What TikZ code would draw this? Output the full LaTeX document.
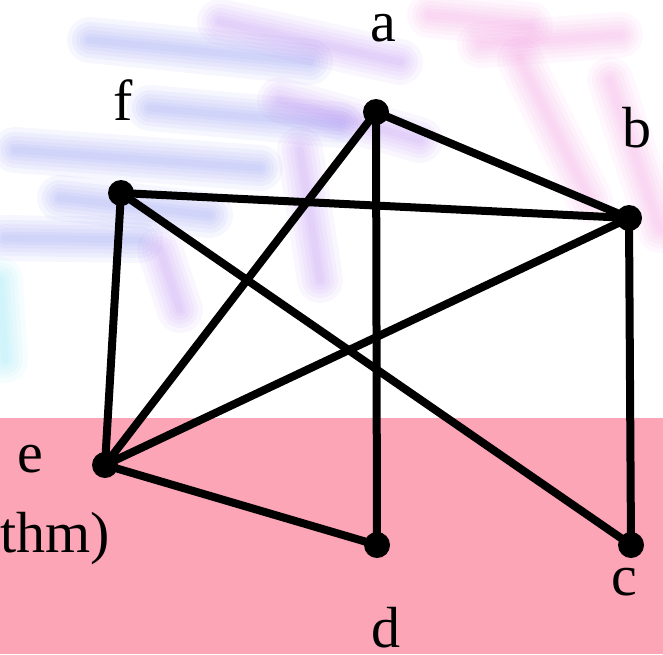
\documentclass[tikz,border=0pt]{standalone}
\usepackage{fontspec}
\setmainfont{Liberation Serif}
\usetikzlibrary{positioning}
\definecolor{figpink}{HTML}{FCA5B6}
\definecolor{figblue}{HTML}{7C84EE}
\definecolor{figviolet}{HTML}{B07CEE}
\definecolor{figrose}{HTML}{F090DC}
\definecolor{figcyan}{HTML}{7CE0F2}
\tikzset{
  vertex/.style={circle, fill=black, minimum size=26pt, inner sep=0pt},
  vlabel/.style={font=\fontsize{58}{60}\selectfont, inner sep=0pt},
  graphedge/.style={line width=8pt, black},
  streak/.style={line cap=round, line width=#1, opacity=0.07},
}
\newcommand{\blurstroke}[2]{\foreach \w in {46,36,28,20,13,7}{\draw[#1, streak=\w pt] #2;}}

\begin{document}
\begin{tikzpicture}[x=1pt, y=-1pt]
  \useasboundingbox (0,0) rectangle (663,654);
  % background
  \fill[figpink] (0,418) rectangle (663,654);
  \blurstroke{figblue}{(90,40) -- (310,62)}
  \blurstroke{figblue}{(150,108) -- (340,125)}
  \blurstroke{figblue}{(15,150) -- (260,168)}
  \blurstroke{figblue}{(60,198) -- (210,215)}
  \blurstroke{figblue}{(5,238) -- (140,240)}
  \blurstroke{figviolet}{(220,22) -- (400,62)}
  \blurstroke{figviolet}{(280,100) -- (420,140)}
  \blurstroke{figviolet}{(300,150) -- (320,280)}
  \blurstroke{figviolet}{(160,250) -- (180,310)}
  \blurstroke{figrose}{(430,15) -- (530,25)}
  \blurstroke{figrose}{(480,45) -- (620,35)}
  \blurstroke{figrose}{(520,60) -- (590,200)}
  \blurstroke{figrose}{(610,80) -- (660,230)}
  \blurstroke{figcyan}{(0,280) -- (5,360)}

  % vertices
  \node[vertex] (a) at (376,112) {};
  \node[vertex] (b) at (629,218) {};
  \node[vertex] (c) at (631,545) {};
  \node[vertex] (d) at (377,545) {};
  \node[vertex] (e) at (105,465) {};
  \node[vertex] (f) at (121,193) {};

  % labels
  \node[vlabel] (la) at (383,28) {a};
  \node[vlabel] (lb) at (637,128) {b};
  \node[vlabel] (lc) at (624,582) {c};
  \node[vlabel] (ld) at (386,628) {d};
  \node[vlabel] (le) at (30,459) {e};
  \node[vlabel] (lf) at (123,100) {f};
  \node[vlabel, anchor=base east] (tail) at (110,552) {thm)};

  % edges
  \draw[graphedge] (a.center) -- (b.center);
  \draw[graphedge] (a.center) -- (d.center);
  \draw[graphedge] (a.center) -- (e.center);
  \draw[graphedge] (f.center) -- (b.center);
  \draw[graphedge] (f.center) -- (c.center);
  \draw[graphedge] (f.center) -- (e.center);
  \draw[graphedge] (b.center) -- (e.center);
  \draw[graphedge] (b.center) -- (c.center);
  \draw[graphedge] (e.center) -- (d.center);
\end{tikzpicture}
\end{document}
